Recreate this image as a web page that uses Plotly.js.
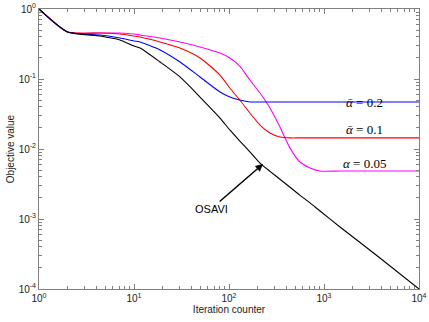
<!DOCTYPE html>
<html>
<head>
<meta charset="utf-8">
<script src="https://cdn.plot.ly/plotly-3.0.1.min.js"></script>
<style>html,body{margin:0;padding:0;background:#fff}#plot{width:429px;height:322px}</style>
</head>
<body>
<div id="plot"></div>
<script>
// iteration counter, shared by all four curves
let iters = [1, 2, 4.4, 7.1, 10, 11.6, 18.8, 30.5, 49.5, 80.4, 102, 130, 166, 212, 270, 344, 439, 559, 712, 908, 1473, 3882, 10000];

// objective value
let osavi    = [1, 0.469, 0.411, 0.361, 0.296, 0.277, 0.175, 0.107, 0.0553, 0.0277, 0.0187, 0.013, 0.0091, 0.0063, 0.0048, 0.0037, 0.00284, 0.00218, 0.0017, 0.0013, 0.00077, 0.000277, 0.0001];
let alpha02  = [1, 0.469, 0.425, 0.385, 0.349, 0.338, 0.26, 0.175, 0.107, 0.0652, 0.0553, 0.0501, 0.047, 0.047, 0.047, 0.047, 0.047, 0.047, 0.047, 0.047, 0.047, 0.047, 0.047];
let alpha01  = [1, 0.469, 0.454, 0.44, 0.411, 0.398, 0.338, 0.277, 0.2, 0.114, 0.0743, 0.0501, 0.0327, 0.022, 0.0169, 0.0148, 0.0144, 0.0144, 0.0144, 0.0144, 0.0144, 0.0144, 0.0144];
let alpha005 = [1, 0.469, 0.454, 0.454, 0.44, 0.425, 0.385, 0.338, 0.287, 0.235, 0.2, 0.153, 0.0968, 0.063, 0.0385, 0.0206, 0.0103, 0.00652, 0.00535, 0.00485, 0.00485, 0.00485, 0.00485];

let decades = [1, 10, 100, 1000, 10000];
let xLabels = ["10<sup>0</sup>", "10<sup>1</sup>", "10<sup>2</sup>", "10<sup>3</sup>", "10<sup>4</sup>"];
let yDecades = [0.0001, 0.001, 0.01, 0.1, 1];
let yLabels = ["10<sup>-4</sup>", "10<sup>-3</sup>", "10<sup>-2</sup>", "10<sup>-1</sup>", "10<sup>0</sup>"];

function curve(y, color) {
    return {
        x: iters,
        y: y,
        type: "scatter",
        mode: "lines",
        line: {color: color, width: 1.1, shape: "spline", smoothing: 0.6},
        showlegend: false
    };
}

let data1 = [
    curve(alpha005, "#ff00ff"),
    curve(alpha01, "#ff0000"),
    curve(alpha02, "#0000ff"),
    curve(osavi, "#000000")
];

let axisStyle = {
    type: "log",
    showgrid: false,
    zeroline: false,
    showline: true,
    linecolor: "#808080",
    linewidth: 1,
    mirror: "allticks",
    ticks: "inside",
    ticklen: 5,
    tickcolor: "#808080",
    tickmode: "array",
    tickfont: {family: "Liberation Sans, Arial", size: 10, color: "#222"},
    minor: {dtick: "D1", ticks: "inside", ticklen: 3, tickcolor: "#808080", showgrid: false}
};

let labelFont = {family: "Liberation Serif, Times New Roman, serif", size: 13, color: "#000"};
let sansFont = {family: "Liberation Sans, Arial", size: 10, color: "#222"};

let layout = {
    width: 429,
    height: 322,
    margin: {l: 39, r: 10, t: 9, b: 33},
    paper_bgcolor: "#fff",
    plot_bgcolor: "#fff",
    xaxis: Object.assign({}, axisStyle, {
        range: [0, 4],
        tickvals: decades,
        ticktext: xLabels,
        title: {text: "Iteration counter", font: sansFont, standoff: 2}
    }),
    yaxis: Object.assign({}, axisStyle, {
        range: [-4, 0],
        tickvals: yDecades,
        ticktext: yLabels,
        title: {text: "Objective value", font: sansFont, standoff: 2}
    }),
    annotations: [
        {xref: "paper", yref: "paper", x: 0.9105, y: 0.70, text: "<i>ᾱ</i> = 0.2", showarrow: false, font: labelFont},
        {xref: "paper", yref: "paper", x: 0.9105, y: 0.568, text: "<i>ᾱ</i> = 0.1", showarrow: false, font: labelFont},
        {xref: "paper", yref: "paper", x: 0.918, y: 0.45, text: "<i>α</i> = 0.05", showarrow: false, font: labelFont},
        {x: Math.log10(228), y: Math.log10(0.0061), text: "OSAVI", showarrow: true,
         ax: -52, ay: 45, arrowhead: 2, arrowsize: 1, arrowwidth: 1.5, arrowcolor: "#000",
         font: {family: "Liberation Sans, Arial", size: 11, color: "#000"}}
    ]
};

Plotly.newPlot("plot", data1, layout, {displayModeBar: false, staticPlot: true});
</script>
</body>
</html>
